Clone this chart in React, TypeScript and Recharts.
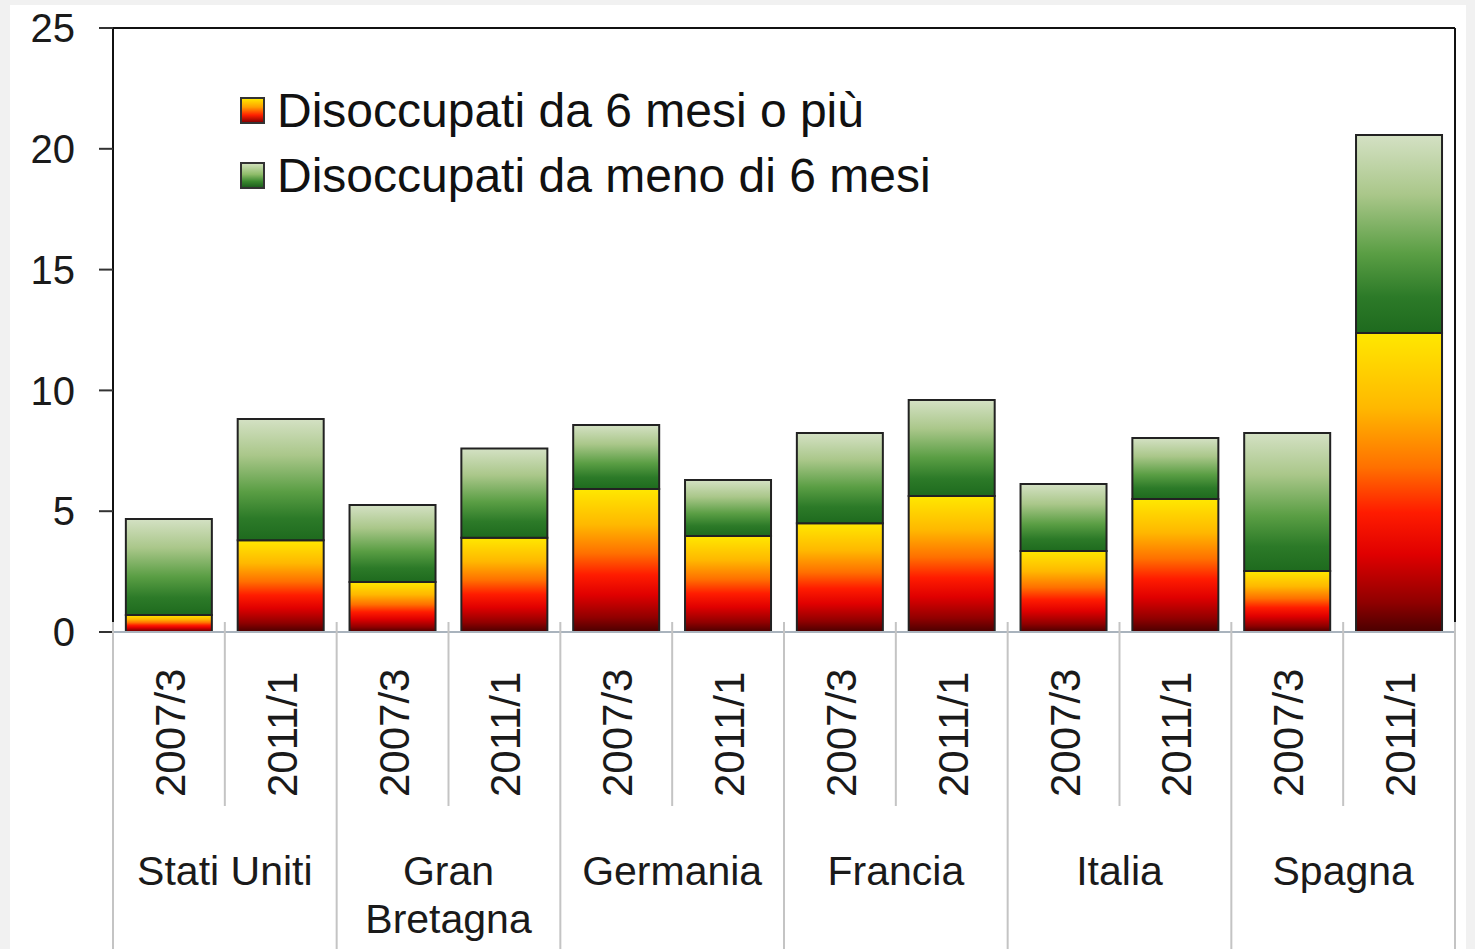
import React from 'react';
import { BarChart, Bar, XAxis, YAxis, Legend, ReferenceLine } from 'recharts';

const countries = ['Stati Uniti', 'Gran Bretagna', 'Germania', 'Francia', 'Italia', 'Spagna'];
const countryLines = [['Stati Uniti'], ['Gran', 'Bretagna'], ['Germania'], ['Francia'], ['Italia'], ['Spagna']];
const periods = ['2007/3', '2011/1'];
// Disoccupati da 6 mesi o più (% forza lavoro)
const longTerm = [0.7, 3.8, 2.07, 3.9, 5.92, 3.97, 4.5, 5.63, 3.35, 5.5, 2.52, 12.38];
// Disoccupati da meno di 6 mesi
const shortTerm = [3.98, 5.02, 3.19, 3.7, 2.65, 2.32, 3.74, 3.97, 2.78, 2.53, 5.72, 8.19];
const yTicks = [0, 5, 10, 15, 20, 25];
const seriesNames = ['Disoccupati da 6 mesi o più', 'Disoccupati da meno di 6 mesi'];

const data = countries.flatMap((c, i) =>
  periods.map((p, j) => ({
    country: c,
    period: p,
    long: longTerm[i * 2 + j],
    short: shortTerm[i * 2 + j],
  }))
);

const FONT = '"Liberation Sans", Arial, Helvetica, sans-serif';
const W = 1475;
const H = 949;

const PeriodTick = (props: any) => {
  const { x, y, payload } = props;
  const i: number = payload.index ?? props.index ?? 0;
  const half: number = payload.offset || 55.9;
  const isFirst = i % 2 === 0;
  const ci = Math.floor(i / 2);
  const sepColor = '#c4c4c4';
  return (
    <g>
      <text
        transform={`translate(${x + 16},${y + 165}) rotate(-90)`}
        textAnchor="start"
        fontSize={42}
        fontFamily={FONT}
        fill="#1a1a1a"
      >
        {payload.value}
      </text>
      <line
        x1={x - half}
        x2={x - half}
        y1={y - 10}
        y2={isFirst ? H : y + 174}
        stroke={sepColor}
        strokeWidth={2}
      />
      {i === data.length - 1 && (
        <line x1={x + half} x2={x + half} y1={y - 10} y2={H} stroke={sepColor} strokeWidth={2} />
      )}
      {isFirst &&
        countryLines[ci].map((ln, k) => (
          <text
            key={k}
            x={x + half}
            y={y + 253 + k * 48}
            textAnchor="middle"
            fontSize={41}
            fontFamily={FONT}
            fill="#1a1a1a"
          >
            {ln}
          </text>
        ))}
    </g>
  );
};

const swatchBg = [
  'linear-gradient(to bottom, #ffe600 0%, #ffa000 35%, #ff2000 70%, #8a0000 100%)',
  'linear-gradient(to bottom, #cfe0b8 0%, #8fbc6a 45%, #3c8a30 75%, #1e601e 100%)',
];

const LegendContent = () => (
  <div style={{ fontFamily: FONT, fontSize: 48, lineHeight: '65px', color: '#111', whiteSpace: 'nowrap' }}>
    {seriesNames.map((n, k) => (
      <div key={k} style={{ display: 'flex', alignItems: 'center' }}>
        <span
          style={{
            display: 'inline-block',
            width: 21,
            height: 23,
            border: '2px solid #333',
            background: swatchBg[k],
            marginRight: 12,
          }}
        />
        <span>{n}</span>
      </div>
    ))}
  </div>
);

export default function App() {
  return (
    <div style={{ position: 'absolute', left: 0, top: 0, width: W, height: H, background: '#f1f1f1', overflow: 'hidden' }}>
      <div style={{ position: 'absolute', left: 10, top: 5, width: 1456, height: H - 5, background: '#ffffff' }} />
      <svg width={0} height={0} style={{ position: 'absolute' }}>
        <defs>
          <linearGradient id="gLong" x1="0" y1="0" x2="0" y2="1">
            <stop offset="0" stopColor="#ffe800" />
            <stop offset="0.25" stopColor="#ffb800" />
            <stop offset="0.45" stopColor="#ff7000" />
            <stop offset="0.6" stopColor="#ff1c00" />
            <stop offset="0.74" stopColor="#e00000" />
            <stop offset="0.9" stopColor="#900000" />
            <stop offset="1" stopColor="#4a0000" />
          </linearGradient>
          <linearGradient id="gShort" x1="0" y1="0" x2="0" y2="1">
            <stop offset="0" stopColor="#d4e1c4" />
            <stop offset="0.3" stopColor="#aac78a" />
            <stop offset="0.6" stopColor="#5a9e44" />
            <stop offset="0.82" stopColor="#2c7a28" />
            <stop offset="1" stopColor="#1e6a1e" />
          </linearGradient>
        </defs>
      </svg>
      <div style={{ position: 'absolute', left: 0, top: 0 }}>
        <BarChart
          width={W}
          height={H}
          data={data}
          margin={{ top: 28, right: 0, bottom: 0, left: 0 }}
          barCategoryGap="11.5%"
        >
          <XAxis
            dataKey="period"
            height={H - 632}
            tickSize={0}
            tickMargin={0}
            tickLine={false}
            axisLine={{ stroke: '#a9b3bd', strokeWidth: 2 }}
            tick={<PeriodTick />}
            interval={0}
          />
          <YAxis
            width={113}
            domain={[0, 25]}
            ticks={yTicks}
            interval={0}
            tickSize={14}
            tickMargin={24}
            axisLine={{ stroke: '#111', strokeWidth: 2 }}
            tickLine={{ stroke: '#333', strokeWidth: 2 }}
            tick={{ fontSize: 40, fontFamily: FONT, fill: '#1a1a1a' }}
          />
          <YAxis
            yAxisId="right"
            orientation="right"
            width={20}
            domain={[0, 25]}
            tick={false}
            tickLine={false}
            axisLine={{ stroke: '#111', strokeWidth: 2 }}
          />
          <ReferenceLine y={25} stroke="#111" strokeWidth={2} />
          <Legend
            layout="vertical"
            align="center"
            verticalAlign="middle"
            content={<LegendContent />}
            wrapperStyle={{ left: 240, top: 78, width: 800, height: 130 }}
          />
          <Bar dataKey="long" name={seriesNames[0]} stackId="a" fill="url(#gLong)" stroke="#222" strokeWidth={2} isAnimationActive={false} />
          <Bar dataKey="short" name={seriesNames[1]} stackId="a" fill="url(#gShort)" stroke="#222" strokeWidth={2} isAnimationActive={false} />
        </BarChart>
      </div>
    </div>
  );
}
